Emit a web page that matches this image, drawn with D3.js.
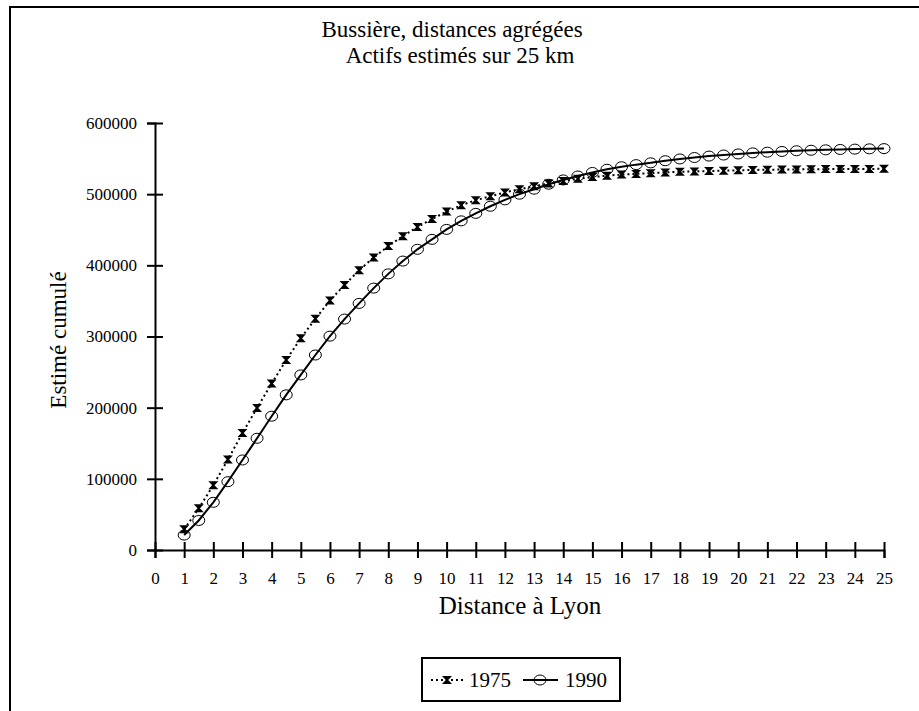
<!DOCTYPE html>
<html>
<head>
<meta charset="utf-8">
<script src="https://cdn.jsdelivr.net/npm/d3@7"></script>
<style>
  body { margin: 0; background: #fff; }
  svg text { font-family: "Liberation Serif", "Times New Roman", Times, serif; fill: #000; }
</style>
</head>
<body>
<div id="chart"></div>
<script>
// distances (km), every half km from 1 to 25
var distances = [1, 1.5, 2, 2.5, 3, 3.5, 4, 4.5, 5, 5.5, 6, 6.5, 7, 7.5, 8, 8.5, 9, 9.5, 10,
  10.5, 11, 11.5, 12, 12.5, 13, 13.5, 14, 14.5, 15, 15.5, 16, 16.5, 17, 17.5, 18, 18.5,
  19, 19.5, 20, 20.5, 21, 21.5, 22, 22.5, 23, 23.5, 24, 24.5, 25];

var values1975 = [29000, 58500, 91000, 127000, 164500, 199500, 234000, 267000, 297500, 325000,
  350500, 372500, 393000, 411000, 427000, 441000, 454000, 465000, 475500, 484500,
  491500, 497000, 502500, 507000, 511000, 515000, 518500, 521500, 524000, 526000,
  527500, 528500, 529500, 530500, 531500, 532000, 532500, 533000, 533500, 534000,
  534300, 534600, 534800, 535000, 535200, 535300, 535400, 535500, 535600];

var values1990 = [21000, 41500, 67000, 96000, 126500, 157000, 188000, 218000, 246000, 274000,
  300500, 324500, 346500, 368000, 388000, 406000, 422500, 436500, 450500, 462500,
  473000, 483000, 492000, 500000, 507000, 514000, 520000, 525500, 530500, 535000,
  538500, 541500, 544000, 547000, 549500, 551500, 553500, 555000, 556500, 558000,
  559000, 560000, 561000, 561700, 562300, 562800, 563300, 563700, 564000];

var xTicks = d3.range(0, 26);
var yTicks = [0, 100000, 200000, 300000, 400000, 500000, 600000];
var seriesNames = ["1975", "1990"];

function init() {
  var w = 919, h = 711;
  var serif = '"Liberation Serif", "Times New Roman", Times, serif';

  var svg = d3.select("#chart").append("svg")
    .attr("width", w)
    .attr("height", h);

  // outer frame (only left + top edges are visible)
  svg.append("rect")
    .attr("x", 10).attr("y", 7)
    .attr("width", 1000).attr("height", 1000)
    .attr("fill", "none")
    .attr("stroke", "#000")
    .attr("stroke-width", 2);

  var xScale = d3.scaleLinear().domain([0, 25]).range([155, 884]);
  var yScale = d3.scaleLinear().domain([0, 600000]).range([550, 123]);

  // title
  svg.append("text")
    .attr("x", 452).attr("y", 37)
    .attr("text-anchor", "middle")
    .attr("font-family", serif)
    .style("font-size", "23px")
    .text("Bussière, distances agrégées");
  svg.append("text")
    .attr("x", 460).attr("y", 63)
    .attr("text-anchor", "middle")
    .attr("font-family", serif)
    .style("font-size", "23px")
    .text("Actifs estimés sur 25 km");

  var xAxis = d3.axisBottom(xScale).tickValues(xTicks).tickSizeOuter(0).tickSize(8).tickPadding(14);
  var yAxis = d3.axisLeft(yScale).tickValues(yTicks).tickSizeOuter(0).tickSize(8).tickPadding(10)
    .tickFormat(d3.format("d"));

  var gx = svg.append("g")
    .attr("transform", "translate(0," + yScale(0) + ")")
    .call(xAxis);
  var gy = svg.append("g")
    .attr("transform", "translate(" + xScale(0) + ",0)")
    .call(yAxis);

  // ticks cross the axes
  gx.selectAll(".tick line").attr("y1", -8).attr("y2", 8);
  gy.selectAll(".tick line").attr("x1", -8).attr("x2", 8);

  [gx, gy].forEach(function(g) {
    g.attr("font-family", serif);
    g.select(".domain").attr("stroke-width", 2);
    g.selectAll(".tick line").attr("stroke-width", 2);
    g.selectAll("text")
      .style("font-size", "17px")
      .attr("fill", "#000");
  });

  // axis titles
  svg.append("text")
    .attr("x", 520).attr("y", 614)
    .attr("text-anchor", "middle")
    .attr("font-family", serif)
    .style("font-size", "25px")
    .text("Distance à Lyon");
  svg.append("text")
    .attr("transform", "translate(66,340) rotate(-90)")
    .attr("text-anchor", "middle")
    .attr("font-family", serif)
    .style("font-size", "23px")
    .text("Estimé cumulé");

  var line = d3.line()
    .x(function(d) { return xScale(d.x); })
    .y(function(d) { return yScale(d.y); });

  var data1975 = distances.map(function(d, i) { return { x: d, y: values1975[i] }; });
  var data1990 = distances.map(function(d, i) { return { x: d, y: values1990[i] }; });

  // hourglass marker for 1975
  var hourglass = "M-5,-4H5L1.2,0L5,4H-5L-1.2,0Z";

  svg.append("path")
    .datum(data1975)
    .attr("d", line)
    .attr("fill", "none")
    .attr("stroke", "#000")
    .attr("stroke-width", 2)
    .attr("stroke-dasharray", "2,3");

  svg.append("g").selectAll("path")
    .data(data1975)
    .enter().append("path")
    .attr("transform", function(d) { return "translate(" + xScale(d.x) + "," + yScale(d.y) + ")"; })
    .attr("d", hourglass)
    .attr("fill", "#000");

  svg.append("path")
    .datum(data1990)
    .attr("d", line)
    .attr("fill", "none")
    .attr("stroke", "#000")
    .attr("stroke-width", 2);

  svg.append("g").selectAll("ellipse")
    .data(data1990)
    .enter().append("ellipse")
    .attr("cx", function(d) { return xScale(d.x); })
    .attr("cy", function(d) { return yScale(d.y); })
    .attr("rx", 6).attr("ry", 5)
    .attr("fill", "none")
    .attr("stroke", "#000")
    .attr("stroke-width", 1);

  // legend
  var legend = svg.append("g");
  legend.append("rect")
    .attr("x", 422).attr("y", 658)
    .attr("width", 198).attr("height", 43)
    .attr("fill", "#fff")
    .attr("stroke", "#000")
    .attr("stroke-width", 2);

  legend.append("line")
    .attr("x1", 431).attr("x2", 463).attr("y1", 680).attr("y2", 680)
    .attr("stroke", "#000").attr("stroke-width", 2).attr("stroke-dasharray", "2,3");
  legend.append("path")
    .attr("transform", "translate(447,680)")
    .attr("d", hourglass)
    .attr("fill", "#000");
  legend.append("text")
    .attr("x", 469).attr("y", 687)
    .attr("font-family", serif)
    .style("font-size", "21px")
    .text(seriesNames[0]);

  legend.append("line")
    .attr("x1", 523).attr("x2", 558).attr("y1", 680).attr("y2", 680)
    .attr("stroke", "#000").attr("stroke-width", 2);
  legend.append("ellipse")
    .attr("cx", 540).attr("cy", 680)
    .attr("rx", 6).attr("ry", 5)
    .attr("fill", "none")
    .attr("stroke", "#000");
  legend.append("text")
    .attr("x", 565).attr("y", 687)
    .attr("font-family", serif)
    .style("font-size", "21px")
    .text(seriesNames[1]);
}

window.onload = init;
</script>
</body>
</html>
